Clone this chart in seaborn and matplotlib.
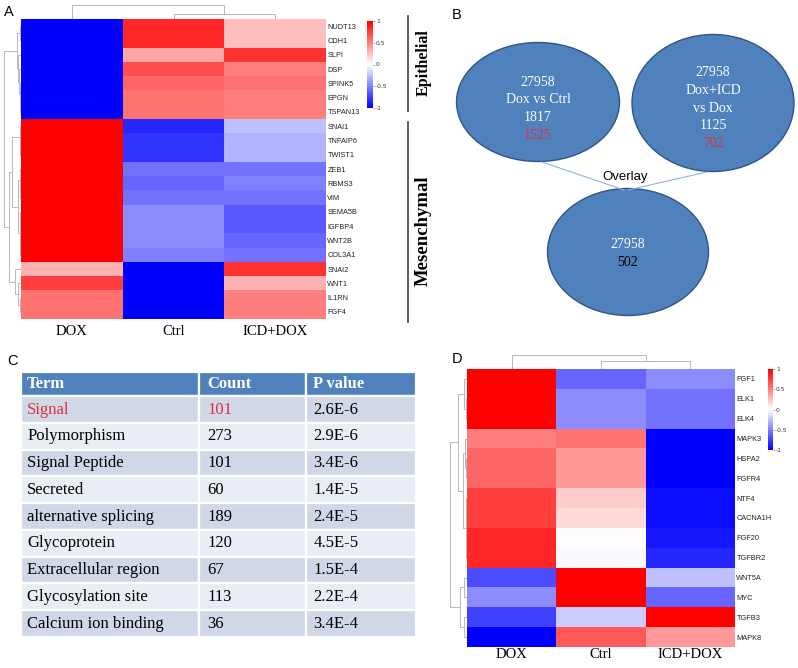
import numpy as np
import pandas as pd
import matplotlib
matplotlib.use("Agg")
import matplotlib.pyplot as plt
import seaborn as sns
from matplotlib.colors import LinearSegmentedColormap
from matplotlib.patches import Ellipse

W, H = 798, 668

groups = ["DOX", "Ctrl", "ICD+DOX"]

# panel A: EMT genes
genes_a = ["NUDT13", "CDH1", "SLPI", "DSP", "SPINK5", "EPGN", "TSPAN13",
           "SNAI1", "TNFAIP6", "TWIST1", "ZEB1", "RBMS3", "VIM", "SEMA5B",
           "IGFBP4", "WNT2B", "COL3A1", "SNAI2", "WNT1", "IL1RN", "FGF4"]
dox_a = [-1, -1, -1, -1, -1, -1, -1,
         1, 1, 1, 1, 1, 1, 1, 1, 1, 1,
         0.3, 0.75, 0.55, 0.55]
ctrl_a = [0.85, 0.85, 0.35, 0.7, 0.6, 0.55, 0.55,
          -0.85, -0.8, -0.8, -0.55, -0.6, -0.55, -0.45, -0.45, -0.45, -0.5,
          -1, -1, -1, -1]
icd_a = [0.25, 0.25, 0.8, 0.5, 0.55, 0.5, 0.5,
         -0.25, -0.3, -0.3, -0.55, -0.5, -0.55, -0.65, -0.65, -0.6, -0.55,
         0.8, 0.3, 0.5, 0.5]

# merges (a, b, height); ids >= n are earlier merges
row_link_a = [(0, 1, 0.03), (5, 6, 0.03), (4, 22, 0.06), (3, 23, 0.1),
              (2, 24, 0.15), (21, 25, 0.25), (8, 9, 0.03), (7, 27, 0.08),
              (11, 12, 0.03), (10, 29, 0.06), (13, 14, 0.03), (15, 16, 0.03),
              (31, 32, 0.08), (30, 33, 0.2), (28, 34, 0.5), (19, 20, 0.03),
              (18, 36, 0.15), (17, 37, 0.35), (35, 38, 0.7), (26, 39, 1.0)]
col_link_a = [(1, 2, 0.38), (0, 3, 1.0)]

# panel D: growth factor genes
genes_d = ["FGF1", "ELK1", "ELK4", "MAPK3", "HSPA2", "FGFR4", "NTF4",
           "CACNA1H", "FGF20", "TGFBR2", "WNT5A", "MYC", "TGFB3", "MAPK8"]
dox_d = [1, 1, 1, 0.5, 0.6, 0.6, 0.75, 0.75, 0.85, 0.85, -0.7, -0.45, -0.75, -1]
ctrl_d = [-0.6, -0.45, -0.45, 0.55, 0.4, 0.4, 0.2, 0.15, 0.0, -0.03, 1, 1, -0.2, 0.65]
icd_d = [-0.45, -0.55, -0.55, -1, -1, -1, -0.95, -0.95, -0.9, -0.85, -0.25, -0.6, 1, 0.4]

row_link_d = [(1, 2, 0.03), (0, 14, 0.2), (4, 5, 0.03), (3, 16, 0.1),
              (6, 7, 0.03), (8, 9, 0.03), (18, 19, 0.08), (17, 20, 0.25),
              (15, 21, 0.55), (10, 11, 0.2), (12, 13, 0.15), (23, 24, 0.4),
              (22, 25, 1.0)]
col_link_d = [(1, 2, 0.6), (0, 3, 1.0)]

# panel B
left_lines = ["27958", "Dox vs Ctrl", "1817", "1525"]
right_lines = ["27958", "Dox+ICD", "vs Dox", "1125", "702"]
bottom_lines = ["27958", "502"]

# panel C
terms = ["Signal", "Polymorphism", "Signal Peptide", "Secreted",
         "alternative splicing", "Glycoprotein", "Extracellular region",
         "Glycosylation site", "Calcium ion binding"]
counts = [101, 273, 101, 60, 189, 120, 67, 113, 36]
pvalues = ["2.6E-6", "2.9E-6", "3.4E-6", "1.4E-5", "2.4E-5", "4.5E-5",
           "1.5E-4", "2.2E-4", "3.4E-4"]
table_header = ["Term", "Count", "P value"]

SERIF = "Liberation Serif"
SANS = "Liberation Sans"
RED = "#E0303A"

cmap = LinearSegmentedColormap.from_list("bwr2", ["#0000FF", "#FFFFFF", "#FF0000"])


def px(x0, y0, x1, y1):
    return [x0 / W, 1 - y1 / H, (x1 - x0) / W, (y1 - y0) / H]


def dendro_segments(link, n):
    pos = {i: i + 0.5 for i in range(n)}
    hgt = {i: 0.0 for i in range(n)}
    segs = []
    for k, (a, b, h) in enumerate(link):
        segs.append(([hgt[a], h, h, hgt[b]], [pos[a], pos[a], pos[b], pos[b]]))
        pos[n + k] = (pos[a] + pos[b]) / 2
        hgt[n + k] = h
    return segs


def draw_heatmap(fig, df, hm_box, cb_box, rowd_box, cold_box, row_link, col_link,
                 label_size, label_pad):
    ax = fig.add_axes(px(*hm_box))
    cax = fig.add_axes(px(*cb_box))
    sns.heatmap(df, ax=ax, cmap=cmap, vmin=-1, vmax=1, cbar_ax=cax,
                xticklabels=True, yticklabels=True)
    ax.yaxis.tick_right()
    ax.tick_params(axis="y", length=0, pad=1, labelsize=5.3, labelcolor="#222222")
    plt.setp(ax.get_yticklabels(), rotation=0, fontfamily=SANS)
    ax.tick_params(axis="x", length=0, pad=label_pad, labelsize=label_size)
    plt.setp(ax.get_xticklabels(), rotation=0, fontfamily=SERIF)
    ax.set_xlabel("")
    ax.set_ylabel("")

    cbar = ax.collections[0].colorbar
    cbar.set_ticks([1, 0.5, 0, -0.5, -1])
    cbar.set_ticklabels(["1", "0.5", "0", "-0.5", "-1"])
    cbar.outline.set_visible(False)
    cax.tick_params(length=1.2, width=0.4, pad=1, labelsize=4.3,
                    labelcolor="#333333", color="#666666")

    n_rows, n_cols = df.shape
    rax = fig.add_axes(px(*rowd_box))
    for xs, ys in dendro_segments(row_link, n_rows):
        rax.plot(xs, ys, color="#B8B8B8", lw=0.7)
    rax.set_xlim(1.1, 0)
    rax.set_ylim(n_rows, 0)
    rax.axis("off")

    tax = fig.add_axes(px(*cold_box))
    for hs, ps in dendro_segments(col_link, n_cols):
        tax.plot(ps, hs, color="#B8B8B8", lw=0.7)
    tax.set_xlim(0, n_cols)
    tax.set_ylim(0, 1.1)
    tax.axis("off")


fig = plt.figure(figsize=(W / 100, H / 100), dpi=100)

# ---- A
df_a = pd.DataFrame({"DOX": dox_a, "Ctrl": ctrl_a, "ICD+DOX": icd_a}, index=genes_a)
draw_heatmap(fig, df_a, (21, 19, 326, 319), (367, 21, 373, 108),
             (2, 19, 21, 319), (21, 4, 326, 19), row_link_a, col_link_a, 10.5, 4)

# ---- D
df_d = pd.DataFrame({"DOX": dox_d, "Ctrl": ctrl_d, "ICD+DOX": icd_d}, index=genes_d)
draw_heatmap(fig, df_d, (467, 369, 735, 647), (768, 369, 773, 450),
             (448, 369, 467, 647), (467, 354, 735, 369), row_link_d, col_link_d, 10.5, 1)

# ---- C table
tax = fig.add_axes(px(21, 372, 416, 637))
tax.axis("off")
cells = [[t, str(c), p] for t, c, p in zip(terms, counts, pvalues)]
tbl = tax.table(cellText=cells, colLabels=table_header, bbox=[0, 0, 1, 1],
                cellLoc="left", colLoc="left",
                colWidths=[178 / 395, 107 / 395, 110 / 395])
tbl.auto_set_font_size(False)
pads = [0.035, 0.075, 0.065]
for (r, c), cell in tbl.get_celld().items():
    cell.set_edgecolor("white")
    cell.set_linewidth(1.6)
    cell.PAD = pads[c]
    txt = cell.get_text()
    txt.set_fontfamily(SERIF)
    txt.set_fontsize(12)
    if r == 0:
        cell.set_facecolor("#4F81BD")
        cell.set_height(24)
        txt.set_color("white")
        txt.set_fontweight("bold")
    else:
        cell.set_facecolor("#D0D8E8" if r % 2 == 1 else "#E9EDF4")
        cell.set_height(26.6)
        txt.set_color(RED if r == 1 and c < 2 else "black")

# ---- overlay: labels, brackets, panel B
ov = fig.add_axes([0, 0, 1, 1])
ov.set_xlim(0, W)
ov.set_ylim(H, 0)
ov.axis("off")

for lab, (x, y) in {"A": (9, 12), "B": (457, 15), "C": (12, 361), "D": (457, 359)}.items():
    ov.text(x, y, lab, fontsize=10.5, family=SANS, ha="center", va="center")

ov.plot([408, 408], [16, 111], color="#404040", lw=1.2)
ov.plot([408, 408], [122, 322], color="#404040", lw=1.2)
ov.text(424, 63, "Epithelial", rotation=90, fontsize=11.5, family=SERIF,
        fontweight="bold", ha="center", va="center")
ov.text(423, 231, "Mesenchymal", rotation=90, fontsize=13.5, family=SERIF,
        fontweight="bold", ha="center", va="center")

ell_kw = dict(facecolor="#4F81BD", edgecolor="#2F5585", lw=1.0)
ov.add_patch(Ellipse((538, 102), 163, 119, **ell_kw))
ov.add_patch(Ellipse((713, 103), 162, 137, **ell_kw))
ov.add_patch(Ellipse((628, 252), 161, 127, **ell_kw))
ov.plot([542, 624], [162, 190], color="#8DB3E2", lw=0.8)
ov.plot([707, 628], [172, 190], color="#8DB3E2", lw=0.8)
ov.text(625, 177, "Overlay", fontsize=9.5, family=SANS, ha="center", va="center")

for i, s in enumerate(left_lines):
    ov.text(538, 82 + 17.8 * i, s, fontsize=10, family=SERIF, ha="center", va="center",
            color=RED if i == 3 else "white")
for i, s in enumerate(right_lines):
    ov.text(713, 73 + 17.6 * i, s, fontsize=10, family=SERIF, ha="center", va="center",
            color=RED if i == 4 else "white")
for i, s in enumerate(bottom_lines):
    ov.text(628, 244 + 18 * i, s, fontsize=10, family=SERIF, ha="center", va="center",
            color="black" if i == 1 else "white")

fig.savefig("out.png", dpi=100)
